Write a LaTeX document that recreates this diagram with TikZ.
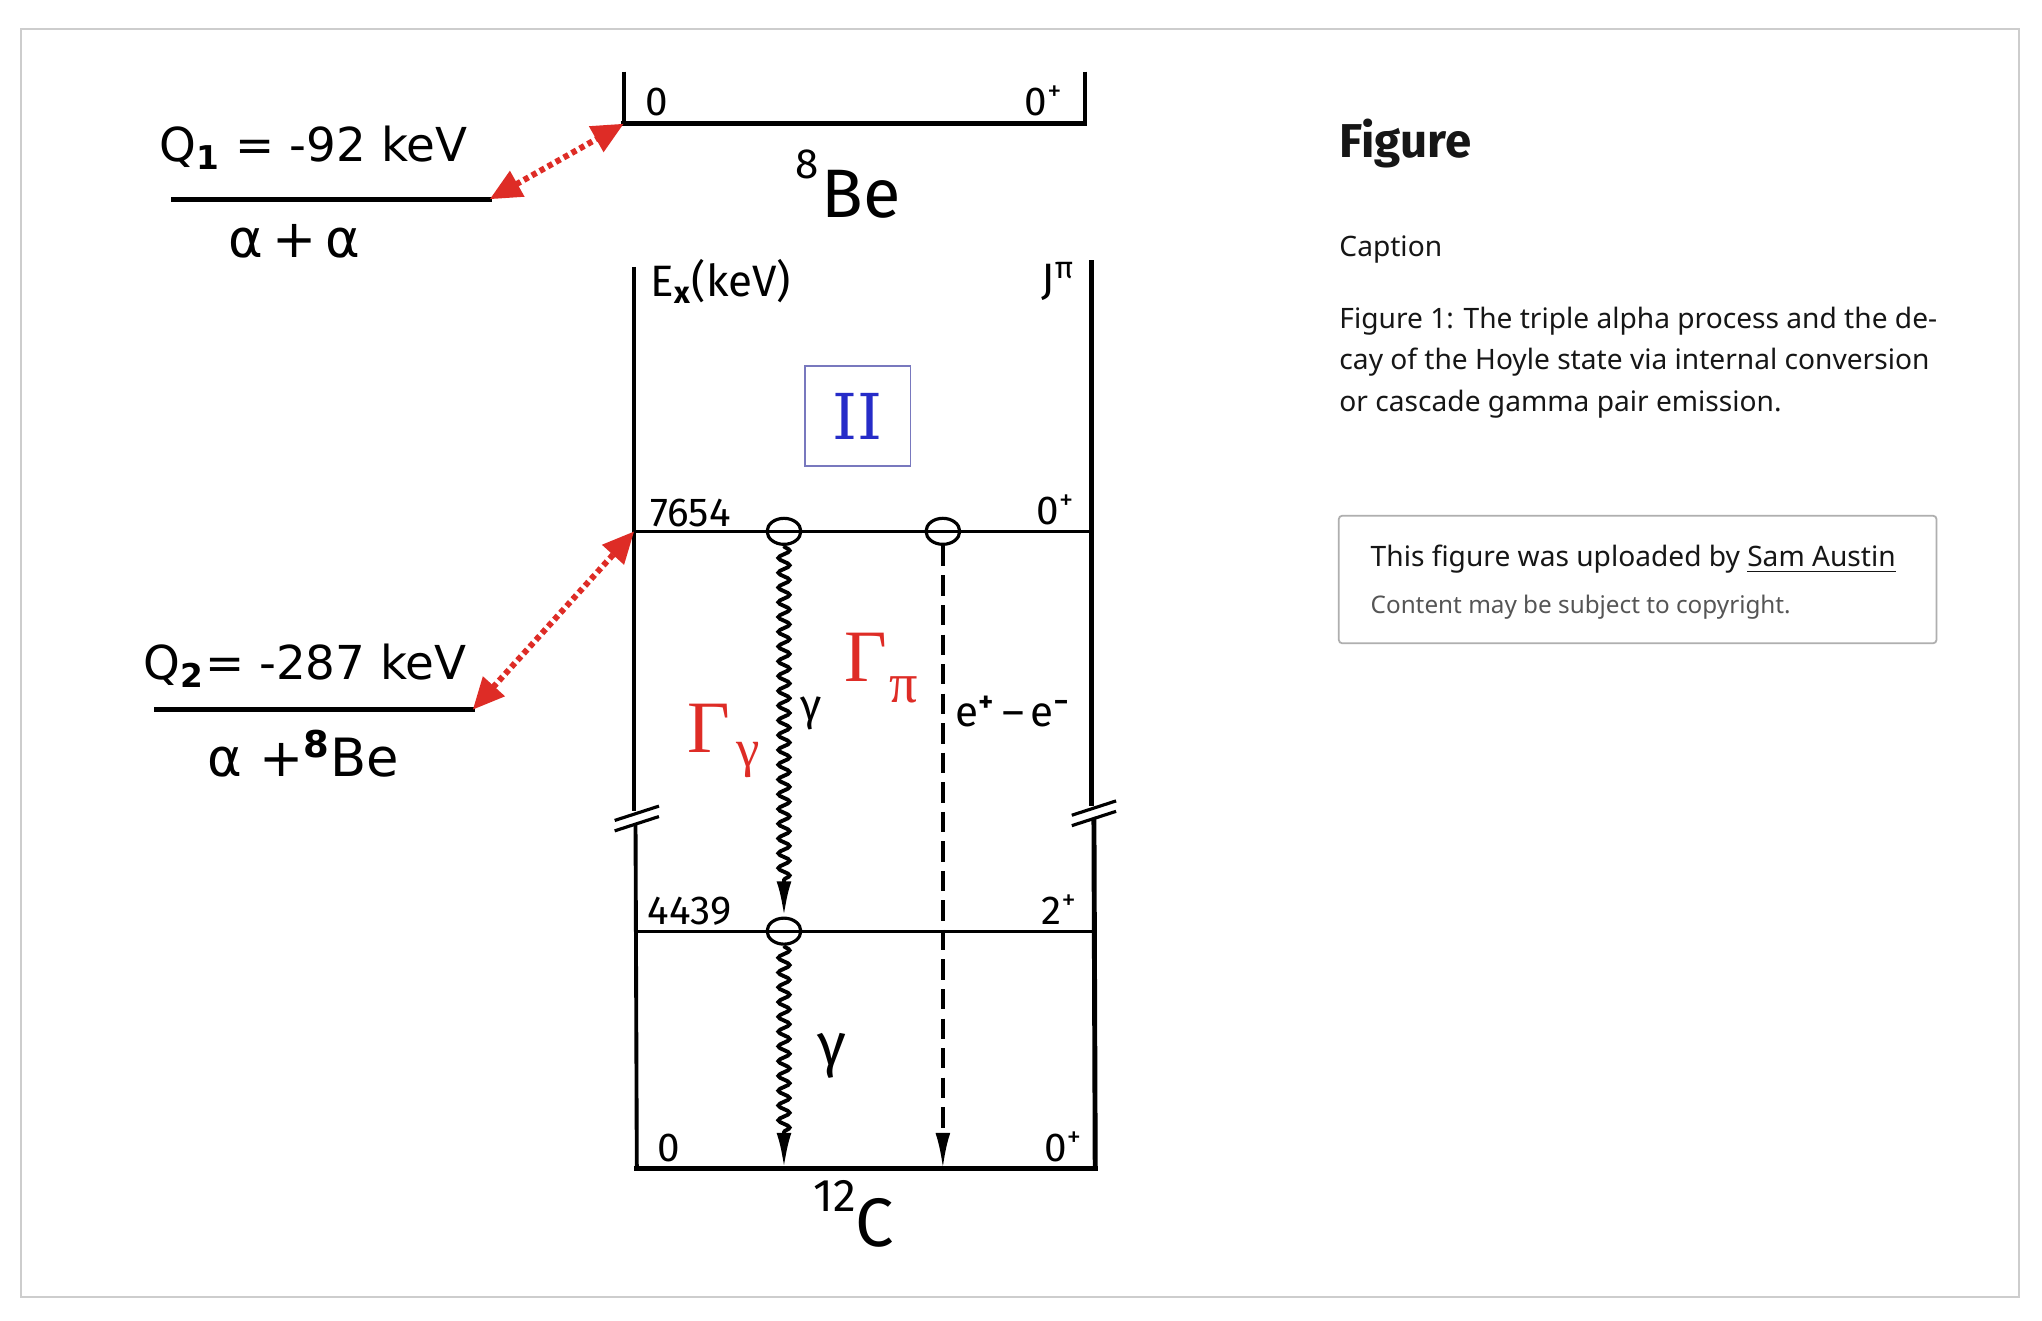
\documentclass[tikz,border=0pt]{standalone}
\usepackage{fontspec}
\setmainfont{Liberation Serif}
\newfontfamily\qfont{DejaVu Sans}
\newfontfamily\lfont{Fira Sans}
\newfontfamily\uifont{Noto Sans}
\newfontfamily\iifont{DejaVu Serif}
\usetikzlibrary{arrows.meta,decorations.pathmorphing,shapes.geometric}
\definecolor{redA}{RGB}{222,44,38}
\definecolor{blueII}{RGB}{38,44,200}
\definecolor{boxII}{RGB}{120,120,190}
\definecolor{frameg}{RGB}{205,205,205}
\definecolor{boxg}{RGB}{175,175,175}
\definecolor{txt}{RGB}{22,22,22}
\definecolor{subtxt}{RGB}{85,85,85}
\begin{document}
\begin{tikzpicture}[x=0.013023cm,y=-0.013023cm,
  thicklvl/.style={line width=1.5pt,line cap=rect},
  thinlvl/.style={line width=0.8pt},
  boxside/.style={line width=1.1pt},
  redarrow/.style={redA,line width=1.7pt,dash pattern=on 1.5pt off 1.1pt,
     {Triangle[length=9pt,width=8pt]}-{Triangle[length=9pt,width=8pt]}},
  wavy/.style={line width=1.1pt,decorate,
     decoration={snake,amplitude=1.6pt,segment length=4.2pt,post length=10pt},
     -{Latex[length=10pt,width=4.2pt]}},
  dasharrow/.style={line width=1pt,dash pattern=on 5.8pt off 2.6pt,
     -{Latex[length=10pt,width=4.2pt]}},
  lvlcirc/.style={draw,ellipse,line width=0.9pt,inner sep=0pt,
     minimum width=9.6pt,minimum height=7.4pt},
  lbl/.style={inner sep=0pt,font=\lfont\fontsize{11.5}{12}\selectfont},
  qlbl/.style={inner sep=0pt,font=\qfont\fontsize{13.3}{14}\selectfont},
  albl/.style={inner sep=0pt,font=\qfont\fontsize{15}{16}\selectfont},
  ui/.style={inner sep=0pt,anchor=base west,text=txt,font=\uifont\fontsize{8}{10}\selectfont}
]
\useasboundingbox (0,0) rectangle (1568,1014);
\fill[white] (0,0) rectangle (1568,1014);
\draw[frameg,line width=0.6pt] (16,22) rectangle (1550,996);

% ---------- 8Be ----------
\coordinate (beTL) at (479,55);
\coordinate (beL) at (479,95);
\coordinate (beR) at (833,95);
\coordinate (beTR) at (833,55);
\draw[boxside] (beTL) -- (beL);
\draw[boxside] (beTR) -- (beR);
\draw[thicklvl] (beL) -- (beR);
\node[lbl,anchor=base west] (be0) at (495,89) {0};
\node[lbl,anchor=base east] (bej) at (817,89) {0\textsuperscript{+}};
\node[inner sep=0pt,anchor=base west] (belbl) at (610,167)
  {\lfont{\fontsize{12}{12}\selectfont\raisebox{11pt}{8}}\hspace{1pt}{\fontsize{19.5}{20}\selectfont Be}};

% ---------- alpha + alpha ----------
\coordinate (aaL) at (133,153);
\coordinate (aaR) at (376,153);
\draw[thicklvl] (aaL) -- (aaR);
\node[qlbl,anchor=base west] (q1) at (122,124) {Q\textsubscript{\textbf{1}} = -92 keV};
\node[albl,anchor=base] (aa) at (226,198) {α\,+\,α};
\draw[redarrow] (aaR) -- (beL);

% ---------- 12C box ----------
\coordinate (cTL) at (487,205);
\coordinate (cTR) at (838,200);
\coordinate (cBL) at (489,897);
\coordinate (cBR) at (841,897);
\draw[boxside] (cTL) -- (487,623);
\draw[boxside] (488,633) -- (cBL);
\draw[line width=1.4pt] (cTR) -- (838,619);
\draw[line width=1.4pt] (840,629) -- (cBR);
\draw[thicklvl] (cBL) -- (cBR);
% breaks
\draw[line width=0.9pt] (472,630) -- (506,619);
\draw[line width=0.9pt] (472,638) -- (506,627);
\draw[line width=0.9pt] (823,626) -- (857,615);
\draw[line width=0.9pt] (823,634) -- (857,623);

\node[lbl,anchor=base west,font=\lfont\fontsize{12.5}{13}\selectfont] (ex) at (499,228) {E\textsubscript{\textbf{x}}(keV)};
\node[lbl,anchor=base east,font=\lfont\fontsize{12.5}{13}\selectfont] (jpi) at (826,226) {J\textsuperscript{π}};

\node[draw=boxII,line width=0.4pt,minimum width=30pt,minimum height=28.5pt,inner sep=0pt] (iibox) at (658.5,319.5)
  {\iifont\fontsize{18}{18}\selectfont\textcolor{blueII}{II}};

% levels
\coordinate (hoL) at (487,408);
\coordinate (hoR) at (838,408);
\coordinate (fL) at (488,715);
\coordinate (fR) at (839,715);
\draw[thinlvl] (hoL) -- (hoR);
\draw[thinlvl] (fL) -- (fR);
\node[lbl,anchor=base west] (l7654) at (499,404) {7654};
\node[lbl,anchor=base east] (j7654) at (826,403) {0\textsuperscript{+}};
\node[lbl,anchor=base west] (l4439) at (497,710) {4439};
\node[lbl,anchor=base east] (j4439) at (828,710) {2\textsuperscript{+}};
\node[lbl,anchor=base west] (l0) at (504,892) {0};
\node[lbl,anchor=base east] (j0) at (832,892) {0\textsuperscript{+}};

\node[lvlcirc] (c1) at (602,408) {};
\node[lvlcirc] (c2) at (602,715) {};
\node[lvlcirc] (c3) at (724,408) {};
\coordinate (g0) at (602,897);
\coordinate (d0) at (724,897);
\draw[wavy] (c1.south) -- (c2.north);
\draw[wavy] (c2.south) -- (g0);
\draw[dasharrow] (c3.south) -- (d0);

\node[lbl,anchor=base west,font=\lfont\fontsize{12.5}{13}\selectfont] (gsm) at (614,553) {γ};
\node[lbl,anchor=base west,font=\lfont\fontsize{12}{13}\selectfont] (ee) at (733,558) {e\textsuperscript{\textbf{+}}\,–\,e\textsuperscript{\textbf{−}}};
\node[lbl,anchor=base west,font=\lfont\fontsize{17}{18}\selectfont] (gbig) at (627,818) {γ};

\node[inner sep=0pt,anchor=base west,text=redA] (gg) at (527,578)
  {\fontsize{21}{21}\selectfont Γ\hspace{2pt}\raisebox{-4pt}{\fontsize{15}{15}\selectfont γ}};
\node[inner sep=0pt,anchor=base west,text=redA] (gp) at (648,523)
  {\fontsize{21}{21}\selectfont Γ\hspace{0.5pt}\raisebox{-6pt}{\fontsize{16}{16}\selectfont π}};

\node[inner sep=0pt,anchor=base west] (c12) at (624,957)
  {\lfont{\fontsize{13}{13}\selectfont\raisebox{10pt}{12}}{\fontsize{19.5}{20}\selectfont C}};

% ---------- alpha + 8Be ----------
\coordinate (a8L) at (120,545);
\coordinate (a8R) at (363,545);
\draw[thicklvl] (a8L) -- (a8R);
\node[qlbl,anchor=base west] (q2) at (110,522) {Q\textsubscript{\textbf{2}}= -287 keV};
\node[albl,anchor=base] (a8) at (233,596) {α +\textsuperscript{\textbf{8}}Be};
\draw[redarrow] (a8R) -- (hoL);

% ---------- right panel ----------
\node[ui,font=\lfont\bfseries\fontsize{13.5}{14}\selectfont] (fig) at (1028,121) {Figure};
\node[ui] (cap) at (1028,197) {Caption};
\node[ui] (p1) at (1028,252) {Figure 1: The triple alpha process and the de-};
\node[ui] (p2) at (1028,284) {cay of the Hoyle state via internal conversion};
\node[ui] (p3) at (1028,316) {or cascade gamma pair emission.};
\draw[boxg,line width=0.5pt,rounded corners=1pt] (1028,396) rectangle (1487,494);
\node[ui] (up) at (1052,435) {This figure was uploaded by \underline{Sam Austin}};
\node[ui,text=subtxt,font=\uifont\fontsize{6.9}{9}\selectfont] (cr) at (1052,471) {Content may be subject to copyright.};
\end{tikzpicture}
\end{document}
